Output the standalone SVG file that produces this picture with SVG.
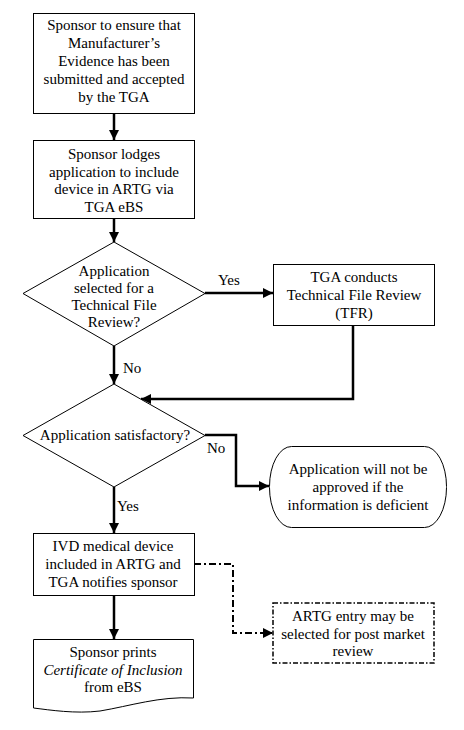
<svg xmlns="http://www.w3.org/2000/svg" width="464" height="730" viewBox="0 0 464 730">
<style>
.s{fill:#fff;stroke:#000;stroke-width:1}
.t{font-family:'Liberation Serif','Times New Roman',serif;font-size:15px;fill:#000;text-anchor:middle}
.l{font-family:'Liberation Serif','Times New Roman',serif;font-size:15px;fill:#000}
.c{fill:none;stroke:#000;stroke-width:2.5}
.d{fill:none;stroke:#000;stroke-width:2;stroke-dasharray:7 3 2 3}
</style>
<defs>
<marker id="a" viewBox="0 0 10 10" refX="10" refY="5" markerWidth="4" markerHeight="4" orient="auto" markerUnits="strokeWidth">
<path d="M0,0 L10,5 L0,10 z" fill="#000"/>
</marker>
<marker id="a2" viewBox="0 0 10 10" refX="10" refY="5" markerWidth="5" markerHeight="5" orient="auto" markerUnits="strokeWidth">
<path d="M0,0 L10,5 L0,10 z" fill="#000"/>
</marker>
</defs>
<rect width="464" height="730" fill="#fff"/>
<g id="connectors">
<path class="c" d="M114,113 V140" marker-end="url(#a)"/>
<path class="c" d="M114,218 V242" marker-end="url(#a)"/>
<path class="c" d="M205,293 H273" marker-end="url(#a)"/>
<path class="c" d="M114,346 V384" marker-end="url(#a)"/>
<path class="c" d="M353,325 V399 H141" marker-end="url(#a)"/>
<path class="c" d="M205,435 H236 V486 H269" marker-end="url(#a)"/>
<path class="c" d="M114,487 V533" marker-end="url(#a)"/>
<path class="c" d="M114,595 V639" marker-end="url(#a)"/>
<path class="d" d="M194,564 H233 V633 H273" marker-end="url(#a2)"/>
<text class="l" x="218" y="285">Yes</text>
<text class="l" x="123" y="373">No</text>
<text class="l" x="207" y="453">No</text>
<text class="l" x="117" y="511">Yes</text>
</g>
<g id="n1">
<rect class="s" x="33.5" y="13.5" width="161" height="100"/>
<text class="t" x="114" y="30">Sponsor to ensure that</text>
<text class="t" x="114" y="48">Manufacturer’s</text>
<text class="t" x="114" y="66">Evidence has been</text>
<text class="t" x="114" y="84">submitted and accepted</text>
<text class="t" x="114" y="102">by the TGA</text>
</g>
<g id="n2">
<rect class="s" x="33.5" y="140.5" width="161" height="78"/>
<text class="t" x="114" y="159">Sponsor lodges</text>
<text class="t" x="114" y="176.5">application to include</text>
<text class="t" x="114" y="194">device in ARTG via</text>
<text class="t" x="114" y="211.5">TGA eBS</text>
</g>
<g id="n3">
<polygon class="s" points="114,242 205,293.5 114,346 23,293.5"/>
<text class="t" x="114" y="276">Application</text>
<text class="t" x="114" y="293">selected for a</text>
<text class="t" x="114" y="310">Technical File</text>
<text class="t" x="114" y="327">Review?</text>
</g>
<g id="n4">
<rect class="s" x="273.5" y="264.5" width="161" height="61"/>
<text class="t" x="354" y="282">TGA conducts</text>
<text class="t" x="354" y="300">Technical File Review</text>
<text class="t" x="354" y="318">(TFR)</text>
</g>
<g id="n5">
<polygon class="s" points="114,384 205,435.5 114,487 23,435.5"/>
<text class="t" x="115" y="440">Application satisfactory?</text>
</g>
<g id="n6">
<rect class="s" x="269.5" y="446.5" width="177" height="81" rx="22" ry="40"/>
<text class="t" x="358" y="474">Application will not be</text>
<text class="t" x="358" y="492">approved if the</text>
<text class="t" x="358" y="510">information is deficient</text>
</g>
<g id="n7">
<rect class="s" x="33.5" y="533.5" width="161" height="62"/>
<text class="t" x="113" y="551">IVD medical device</text>
<text class="t" x="113" y="569">included in ARTG and</text>
<text class="t" x="113" y="587">TGA notifies sponsor</text>
</g>
<g id="n8">
<rect x="273" y="603" width="161" height="60" fill="#fff" stroke="#000" stroke-width="1.5" stroke-dasharray="5 2 1.5 2"/>
<text class="t" x="353" y="621">ARTG entry may be</text>
<text class="t" x="353" y="638.5">selected for post market</text>
<text class="t" x="353" y="656">review</text>
</g>
<g id="n9">
<path class="s" d="M33.5,639.5 H193.5 V698 C160,696 130,706 100,711 C75,714 50,710 33.5,708 Z"/>
<text class="t" x="113" y="657">Sponsor prints</text>
<text class="t" x="113" y="675" font-style="italic">Certificate of Inclusion</text>
<text class="t" x="113" y="692">from eBS</text>
</g>
</svg>
